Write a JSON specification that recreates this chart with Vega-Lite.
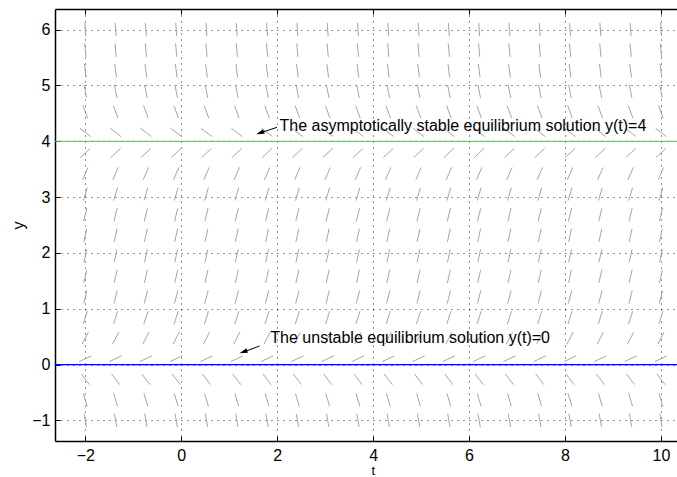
{
  "$schema": "https://vega.github.io/schema/vega-lite/v6.json",
  "width": 622,
  "height": 432,
  "autosize": {"type": "none"},
  "padding": {"left": 55, "top": 9, "right": 0, "bottom": 36},
  "background": "white",
  "config": {
    "view": {"stroke": null},
    "font": "Liberation Sans",
    "axis": {
      "labelFont": "Liberation Sans", "labelFontSize": 16, "labelColor": "#000",
      "titleFont": "Liberation Sans", "titleFontSize": 16, "titleColor": "#000", "titleFontWeight": "normal",
      "domainColor": "#000", "domainWidth": 1.5, "tickColor": "#000", "tickWidth": 1,
      "gridColor": "#000", "gridOpacity": 0.85, "gridDash": [1, 5], "gridWidth": 1
    }
  },
  "datasets": {
    "seg": [
      {"y1": -0.881, "y2": -1.119, "t1": [-2.024,-1.392,-0.761,-0.129,0.502,1.134,1.765,2.397,3.029,3.66,4.292,4.923,5.555,6.187,6.818,7.45,8.081,8.713,9.344,9.976], "t2": [-1.976,-1.344,-0.713,-0.081,0.55,1.182,1.813,2.445,3.077,3.708,4.34,4.971,5.603,6.235,6.866,7.498,8.129,8.761,9.392,10.024]},
      {"y1": -0.516, "y2": -0.748, "t1": [-2.04,-1.408,-0.777,-0.145,0.486,1.118,1.749,2.381,3.013,3.644,4.276,4.907,5.539,6.171,6.802,7.434,8.065,8.697,9.328,9.96], "t2": [-1.96,-1.328,-0.697,-0.065,0.566,1.198,1.829,2.461,3.093,3.724,4.356,4.987,5.619,6.251,6.882,7.514,8.145,8.777,9.408,10.04]},
      {"y1": -0.167, "y2": -0.359, "t1": [-2.085,-1.453,-0.822,-0.19,0.441,1.073,1.704,2.336,2.968,3.599,4.231,4.862,5.494,6.126,6.757,7.389,8.02,8.652,9.283,9.915], "t2": [-1.915,-1.283,-0.652,-0.02,0.611,1.243,1.874,2.506,3.138,3.769,4.401,5.032,5.664,6.296,6.927,7.559,8.19,8.822,9.453,10.085]},
      {"y1": 0.053, "y2": 0.157, "t1": [-2.127,-1.495,-0.864,-0.232,0.399,1.031,1.662,2.294,2.926,3.557,4.189,4.82,5.452,6.084,6.715,7.347,7.978,8.61,9.241,9.873], "t2": [-1.873,-1.241,-0.61,0.022,0.653,1.285,1.916,2.548,3.18,3.811,4.443,5.074,5.706,6.338,6.969,7.601,8.232,8.864,9.495,10.127]},
      {"y1": 0.367, "y2": 0.581, "t1": [-2.064,-1.432,-0.801,-0.169,0.462,1.094,1.725,2.357,2.989,3.62,4.252,4.883,5.515,6.147,6.778,7.41,8.041,8.673,9.304,9.936], "t2": [-1.936,-1.304,-0.673,-0.041,0.59,1.222,1.853,2.485,3.117,3.748,4.38,5.011,5.643,6.275,6.906,7.538,8.169,8.801,9.432,10.064]},
      {"y1": 0.727, "y2": 0.957, "t1": [-2.043,-1.411,-0.78,-0.148,0.483,1.115,1.746,2.378,3.01,3.641,4.273,4.904,5.536,6.168,6.799,7.431,8.062,8.694,9.325,9.957], "t2": [-1.957,-1.325,-0.694,-0.062,0.569,1.201,1.832,2.464,3.096,3.727,4.359,4.99,5.622,6.254,6.885,7.517,8.148,8.78,9.411,10.043]},
      {"y1": 1.094, "y2": 1.328, "t1": [-2.035,-1.403,-0.772,-0.14,0.491,1.123,1.754,2.386,3.018,3.649,4.281,4.912,5.544,6.176,6.807,7.439,8.07,8.702,9.333,9.965], "t2": [-1.965,-1.333,-0.702,-0.07,0.561,1.193,1.824,2.456,3.088,3.719,4.351,4.982,5.614,6.246,6.877,7.509,8.14,8.772,9.403,10.035]},
      {"y1": 1.461, "y2": 1.697, "t1": [-2.031,-1.399,-0.768,-0.136,0.495,1.127,1.758,2.39,3.022,3.653,4.285,4.916,5.548,6.18,6.811,7.443,8.074,8.706,9.337,9.969], "t2": [-1.969,-1.337,-0.706,-0.074,0.557,1.189,1.82,2.452,3.084,3.715,4.347,4.978,5.61,6.242,6.873,7.505,8.136,8.768,9.399,10.031]},
      {"y1": 1.829, "y2": 2.065, "t1": [-2.03,-1.398,-0.767,-0.135,0.496,1.128,1.759,2.391,3.023,3.654,4.286,4.917,5.549,6.181,6.812,7.444,8.075,8.707,9.338,9.97], "t2": [-1.97,-1.338,-0.707,-0.075,0.556,1.188,1.819,2.451,3.083,3.714,4.346,4.977,5.609,6.241,6.872,7.504,8.135,8.767,9.398,10.03]},
      {"y1": 2.198, "y2": 2.434, "t1": [-2.03,-1.398,-0.767,-0.135,0.496,1.128,1.759,2.391,3.023,3.654,4.286,4.917,5.549,6.181,6.812,7.444,8.075,8.707,9.338,9.97], "t2": [-1.97,-1.338,-0.707,-0.075,0.556,1.188,1.819,2.451,3.083,3.714,4.346,4.977,5.609,6.241,6.872,7.504,8.135,8.767,9.398,10.03]},
      {"y1": 2.567, "y2": 2.801, "t1": [-2.033,-1.401,-0.77,-0.138,0.493,1.125,1.756,2.388,3.02,3.651,4.283,4.914,5.546,6.178,6.809,7.441,8.072,8.704,9.335,9.967], "t2": [-1.967,-1.335,-0.704,-0.072,0.559,1.191,1.822,2.454,3.086,3.717,4.349,4.98,5.612,6.244,6.875,7.507,8.138,8.77,9.401,10.033]},
      {"y1": 2.937, "y2": 3.169, "t1": [-2.04,-1.408,-0.777,-0.145,0.486,1.118,1.749,2.381,3.013,3.644,4.276,4.907,5.539,6.171,6.802,7.434,8.065,8.697,9.328,9.96], "t2": [-1.96,-1.328,-0.697,-0.065,0.566,1.198,1.829,2.461,3.093,3.724,4.356,4.987,5.619,6.251,6.882,7.514,8.145,8.777,9.408,10.04]},
      {"y1": 3.31, "y2": 3.532, "t1": [-2.056,-1.424,-0.793,-0.161,0.47,1.102,1.733,2.365,2.997,3.628,4.26,4.891,5.523,6.155,6.786,7.418,8.049,8.681,9.312,9.944], "t2": [-1.944,-1.312,-0.681,-0.049,0.582,1.214,1.845,2.477,3.109,3.74,4.372,5.003,5.635,6.267,6.898,7.53,8.161,8.793,9.424,10.056]},
      {"y1": 3.707, "y2": 3.871, "t1": [-2.103,-1.471,-0.84,-0.208,0.423,1.055,1.686,2.318,2.95,3.581,4.213,4.844,5.476,6.108,6.739,7.371,8.002,8.634,9.265,9.897], "t2": [-1.897,-1.265,-0.634,-0.002,0.629,1.261,1.892,2.524,3.156,3.787,4.419,5.05,5.682,6.314,6.945,7.577,8.208,8.84,9.471,10.103]},
      {"y1": 4.231, "y2": 4.085, "t1": [-2.112,-1.48,-0.849,-0.217,0.414,1.046,1.677,2.309,2.941,3.572,4.204,4.835,5.467,6.099,6.73,7.362,7.993,8.625,9.256,9.888], "t2": [-1.888,-1.256,-0.625,0.007,0.638,1.27,1.901,2.533,3.165,3.796,4.428,5.059,5.691,6.323,6.954,7.586,8.217,8.849,9.48,10.112]},
      {"y1": 4.639, "y2": 4.413, "t1": [-2.048,-1.416,-0.785,-0.153,0.478,1.11,1.741,2.373,3.005,3.636,4.268,4.899,5.531,6.163,6.794,7.426,8.057,8.689,9.32,9.952], "t2": [-1.952,-1.32,-0.689,-0.057,0.574,1.206,1.837,2.469,3.101,3.732,4.364,4.995,5.627,6.259,6.89,7.522,8.153,8.785,9.416,10.048]},
      {"y1": 5.013, "y2": 4.777, "t1": [-2.027,-1.395,-0.764,-0.132,0.499,1.131,1.762,2.394,3.026,3.657,4.289,4.92,5.552,6.184,6.815,7.447,8.078,8.71,9.341,9.973], "t2": [-1.973,-1.341,-0.71,-0.078,0.553,1.185,1.816,2.448,3.08,3.711,4.343,4.974,5.606,6.238,6.869,7.501,8.132,8.764,9.395,10.027]},
      {"y1": 5.383, "y2": 5.143, "t1": [-2.018,-1.386,-0.755,-0.123,0.508,1.14,1.771,2.403,3.035,3.666,4.298,4.929,5.561,6.193,6.824,7.456,8.087,8.719,9.35,9.982], "t2": [-1.982,-1.35,-0.719,-0.087,0.544,1.176,1.807,2.439,3.071,3.702,4.334,4.965,5.597,6.229,6.86,7.492,8.123,8.755,9.386,10.018]},
      {"y1": 5.752, "y2": 5.512, "t1": [-2.013,-1.381,-0.75,-0.118,0.513,1.145,1.776,2.408,3.04,3.671,4.303,4.934,5.566,6.198,6.829,7.461,8.092,8.724,9.355,9.987], "t2": [-1.987,-1.355,-0.724,-0.092,0.539,1.171,1.802,2.434,3.066,3.697,4.329,4.96,5.592,6.224,6.855,7.487,8.118,8.75,9.381,10.013]},
      {"y1": 6.12, "y2": 5.88, "t1": [-2.01,-1.378,-0.747,-0.115,0.516,1.148,1.779,2.411,3.043,3.674,4.306,4.937,5.569,6.201,6.832,7.464,8.095,8.727,9.358,9.99], "t2": [-1.99,-1.358,-0.727,-0.095,0.536,1.168,1.799,2.431,3.063,3.694,4.326,4.957,5.589,6.221,6.852,7.484,8.115,8.747,9.378,10.01]}
    ],
    "arrows": [
      {"t": 1.996, "y": 4.25, "t2": 1.62, "y2": 4.14, "ht": 1.644, "hy": 4.148},
      {"t": 1.634, "y": 0.333, "t2": 1.27, "y2": 0.217, "ht": 1.296, "hy": 0.227}
    ],
    "notes": [
      {"t": 2.049, "y": 4.183, "label": "The asymptotically stable equilibrium solution y(t)=4"},
      {"t": 1.857, "y": 0.392, "label": "The unstable equilibrium solution y(t)=0"}
    ]
  },
  "layer": [
    {
      "data": {"name": "seg"},
      "transform": [{"flatten": ["t1", "t2"]}],
      "mark": {"type": "rule", "color": "#9a9a9a", "strokeWidth": 0.9},
      "encoding": {
        "x": {"field": "t1", "type": "quantitative",
              "scale": {"domain": [-2.6316, 10.335], "nice": false, "zero": false},
              "axis": {"orient": "bottom", "values": [-2, 0, 2, 4, 6, 8, 10], "format": "d", "grid": true, "tickSize": -5, "labelPadding": 11,
                       "title": "t", "titleFontSize": 13, "titleX": 317.7, "titleY": 33.5, "titleBaseline": "alphabetic", "titleAlign": "center"}},
        "x2": {"field": "t2"},
        "y": {"field": "y1", "type": "quantitative",
              "scale": {"domain": [-1.3684, 6.3684], "nice": false, "zero": false},
              "axis": {"orient": "left", "values": [-1, 0, 1, 2, 3, 4, 5, 6], "format": "d", "grid": true, "tickSize": -5, "labelPadding": 10,
                       "title": "y", "titleX": -32, "titleY": 216, "titleAngle": 270, "titleBaseline": "alphabetic", "titleAlign": "center"}},
        "y2": {"field": "y2"}
      }
    },
    {
      "data": {"values": [{"y": 4}]},
      "mark": {"type": "rule", "color": "#00ff00", "strokeWidth": 1.2},
      "encoding": {"y": {"field": "y", "type": "quantitative"}}
    },
    {
      "data": {"values": [{"y": 0}]},
      "mark": {"type": "rule", "color": "#0000ff", "strokeWidth": 1.2},
      "encoding": {"y": {"field": "y", "type": "quantitative"}}
    },
    {
      "data": {"name": "arrows"},
      "mark": {"type": "rule", "color": "#000", "strokeWidth": 1},
      "encoding": {
        "x": {"field": "t", "type": "quantitative",
              "axis": {"orient": "top", "values": [-2, 0, 2, 4, 6, 8, 10], "grid": false, "labels": false, "tickSize": -5, "title": null}},
        "x2": {"field": "t2"},
        "y": {"field": "y", "type": "quantitative"},
        "y2": {"field": "y2"}
      }
    },
    {
      "data": {"name": "arrows"},
      "mark": {"type": "point", "shape": "M-1,0L1,-0.6L1,0.6Z", "filled": true, "color": "#000", "size": 64, "angle": 340, "opacity": 1},
      "encoding": {
        "x": {"field": "ht", "type": "quantitative", "axis": null},
        "y": {"field": "hy", "type": "quantitative"}
      }
    },
    {
      "data": {"name": "notes"},
      "mark": {"type": "text", "align": "left", "baseline": "alphabetic", "font": "Liberation Sans", "fontSize": 16, "color": "#000"},
      "encoding": {
        "x": {"field": "t", "type": "quantitative", "axis": null},
        "y": {"field": "y", "type": "quantitative"},
        "text": {"field": "label"}
      }
    }
  ]
}
